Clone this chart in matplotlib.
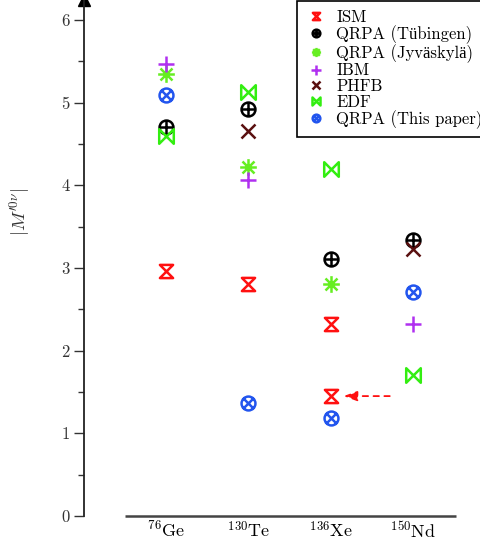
import numpy as np
import matplotlib
matplotlib.use("Agg")
import matplotlib.pyplot as plt
from matplotlib.path import Path

plt.rcParams['font.family'] = ['cmr10', 'Liberation Serif', 'DejaVu Serif']
plt.rcParams['mathtext.fontset'] = 'cm'
plt.rcParams['axes.unicode_minus'] = False

nuclei = [r'$^{76}$Ge', r'$^{130}$Te', r'$^{136}$Xe', r'$^{150}$Nd']
# (nucleus index, value) for each calculation
ism_x = [0, 1, 2, 2]
ism_y = [2.96, 2.81, 2.32, 1.45]
tub_x = [0, 1, 2, 3]
tub_y = [4.70, 4.92, 3.11, 3.34]
jyv_x = [0, 1, 2]
jyv_y = [5.35, 4.22, 2.80]
ibm_x = [0, 1, 3]
ibm_y = [5.47, 4.06, 2.32]
phfb_x = [1, 3]
phfb_y = [4.66, 3.23]
edf_x = [0, 1, 2, 3]
edf_y = [4.60, 5.13, 4.20, 1.71]
this_x = [0, 1, 2, 3]
this_y = [5.09, 1.37, 1.18, 2.71]
labels = ['ISM', 'QRPA (Tübingen)', 'QRPA (Jyväskylä)',
          'IBM', 'PHFB', 'EDF', 'QRPA (This paper)']

# custom marker paths
hourglass = Path([(-1, 1), (1, 1), (-1, -1), (1, -1), (-1, 1)],
                 [Path.MOVETO, Path.LINETO, Path.LINETO, Path.LINETO, Path.CLOSEPOLY])
bowtie = Path([(-1, 1), (-1, -1), (1, 1), (1, -1), (-1, 1)],
              [Path.MOVETO, Path.LINETO, Path.LINETO, Path.LINETO, Path.CLOSEPOLY])
circ = Path.unit_circle()
plus_p = Path([(-1, 0), (1, 0), (0, -1), (0, 1)],
              [Path.MOVETO, Path.LINETO, Path.MOVETO, Path.LINETO])
d = 0.78
x_p = Path([(-d, -d), (d, d), (-d, d), (d, -d)],
           [Path.MOVETO, Path.LINETO, Path.MOVETO, Path.LINETO])
oplus = Path.make_compound_path(circ, plus_p)
otimes = Path.make_compound_path(circ, x_p)
s = 0.72
ast = Path([(-1, 0), (1, 0), (0, -1), (0, 1), (-s, -s), (s, s), (-s, s), (s, -s)],
           [Path.MOVETO, Path.LINETO] * 4)

fig = plt.figure(figsize=(4.81, 5.42), dpi=100)
ax = fig.add_axes([84 / 481, 26 / 542, 1 - 84 / 481, 516 / 542])
ax.set_xlim(-1.0, 3.83)
ax.set_ylim(0, 6.24)

common = dict(linestyle='none', fillstyle='none', markeredgewidth=1.8, clip_on=False)
ax.plot(ism_x, ism_y, marker=hourglass, ms=9.5, color='#ff1010', label=labels[0], **common)
ax.plot(tub_x, tub_y, marker=oplus, ms=10, color='black', label=labels[1], **common)
ax.plot(jyv_x, jyv_y, marker=ast, ms=12, color='#66ee22', label=labels[2], **common)
ax.plot(ibm_x, ibm_y, marker=plus_p, ms=12, color='#b030f0', label=labels[3], **common)
ax.plot(phfb_x, phfb_y, marker='x', ms=10, color='#5a1010', label=labels[4], **common)
ax.plot(edf_x, edf_y, marker=bowtie, ms=10.5, color='#33ee11', label=labels[5], **common)
ax.plot(this_x, this_y, marker=otimes, ms=10, color='#2255ee', label=labels[6], **common)

ax.annotate('', xy=(2.16, 1.45), xytext=(2.72, 1.45),
            arrowprops=dict(arrowstyle='-|>,head_length=0.8,head_width=0.3', linestyle=(0, (3, 3)),
                            color='#ff1010', lw=1.3, shrinkA=0, shrinkB=0))

# axes styling
for sp in ['top', 'right', 'bottom']:
    ax.spines[sp].set_visible(False)
ax.spines['left'].set_linewidth(1.3)
ax.spines['left'].set_color('#222222')
ax.plot([0], [1], marker='^', ms=8, color='black', transform=ax.transAxes, clip_on=False)
ax.hlines(0, -0.5, 3.52, color='#444444', lw=1.8, clip_on=False)

ax.set_yticks(np.arange(0, 7, 1))
ax.set_yticks(np.arange(0.5, 6.5, 1), minor=True)
ax.tick_params(axis='y', which='major', direction='out', length=7, width=1, labelsize=12, colors='#333333')
ax.tick_params(axis='y', which='minor', direction='out', length=4, width=1, colors='#333333')
ax.set_xticks(range(4))
ax.set_xticklabels(nuclei)
ax.tick_params(axis='x', length=0, labelsize=13, pad=3)
ax.set_ylabel(r'$|M^{\prime 0\nu}|$', fontsize=13.5, color='#333333')
ax.yaxis.set_label_coords(-0.13, 0.59)

leg = ax.legend(loc='upper left', bbox_to_anchor=(297 / 481, 1 - 1 / 542), bbox_transform=fig.transFigure,
                borderaxespad=0, fontsize=12, markerscale=0.55,
                handlelength=1.25, handletextpad=0.6, labelspacing=0.02, borderpad=0.5,
                fancybox=False, edgecolor='black', framealpha=1)
leg.get_frame().set_linewidth(1.2)

fig.savefig('out.png', dpi=100)
